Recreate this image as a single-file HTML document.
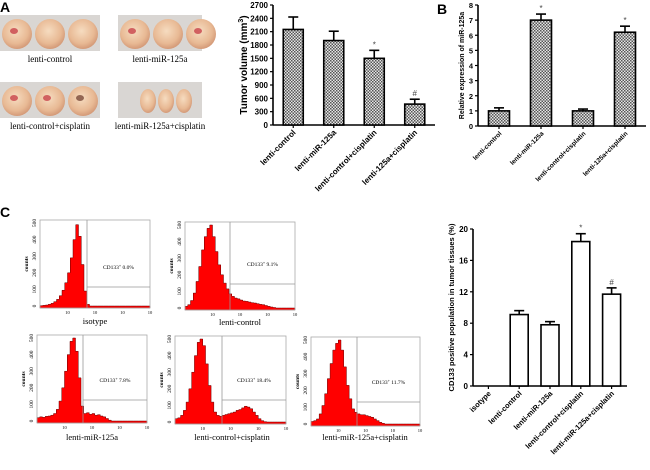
<!DOCTYPE html>
<html><head><meta charset="utf-8">
<style>
html,body{margin:0;padding:0;background:#fff;}
svg{display:block;font-family:"Liberation Sans",sans-serif;}
.ser{font-family:"Liberation Serif",serif;}
</style></head>
<body>
<svg id="fig" width="650" height="470" viewBox="0 0 650 470">
<defs>
<pattern id="chk" width="3" height="3" patternUnits="userSpaceOnUse">
<rect width="3" height="3" fill="#e6e6e6"/><rect width="1.5" height="1.5" fill="#555"/><rect x="1.5" y="1.5" width="1.5" height="1.5" fill="#555"/>
</pattern>
<radialGradient id="tum" cx="45%" cy="40%" r="60%"><stop offset="0" stop-color="#f6dcc0"/><stop offset="0.7" stop-color="#e8b994"/><stop offset="1" stop-color="#d49a78"/></radialGradient>
</defs>
<text x="0" y="12" font-size="14" font-weight="bold">A</text>
<text x="437" y="14" font-size="14" font-weight="bold">B</text>
<text x="0" y="217" font-size="14" font-weight="bold">C</text>
<g id="photos"></g>
<g id="chartA"></g>
<g id="chartB"></g>
<g id="chartC"></g>
<g id="flow"></g>
</svg>
<script>
const NS="http://www.w3.org/2000/svg";
function mk(p,t,a,txt){const e=document.createElementNS(NS,t);for(const k in a)e.setAttribute(k,a[k]);if(txt!==undefined)e.textContent=txt;p.appendChild(e);return e;}

// ---- chart data ----
const catsA=["lenti-control","lenti-miR-125a","lenti-control+cisplatin","lenti-125a+cisplatin"];
const valsA=[2150,1900,1500,470];
const errA=[280,210,180,110];
const marksA=["","","*","#"];
const ticksA=[0,300,600,900,1200,1500,1800,2100,2400,2700];

const catsB=["lenti-control","lenti-miR-125a","lenti-control+cisplatin","lenti-125a+cisplatin"];
const valsB=[1.0,7.0,1.0,6.2];
const errB=[0.2,0.4,0.12,0.4];
const marksB=["","*","","*"];
const ticksB=[0,1,2,3,4,5,6,7,8];

const catsC=["isotype","lenti-control","lenti-miR-125a","lenti-control+cisplatin","lenti-miR-125a+cisplatin"];
const valsC=[0,9.1,7.8,18.4,11.7];
const errC=[0,0.5,0.4,1.0,0.8];
const marksC=["","","","*","#"];
const ticksC=[0,4,8,12,16,20];

const histIso=[2,4,6,10,16,26,40,62,95,140,200,290,400,490,420,250,90,10,0,0,0,0,0,0,0,0,0,0,0,0,0,0,0,0,0,0,0,0,0,0];
const histCtrl=[10,20,45,90,160,250,350,430,480,500,430,340,260,200,150,115,85,70,60,55,48,42,40,36,32,30,26,22,20,15,10,6,3,0,0,0,0,0,0,0];
const histMiR=[20,25,22,28,30,35,45,70,120,200,300,400,480,500,420,260,90,45,50,40,45,35,38,30,25,15,5,0,0,0,0,0,0,0,0,0,0,0,0,0];
const histCis=[20,25,40,70,120,200,300,400,480,500,460,350,220,120,60,40,35,40,45,50,55,60,70,75,85,95,90,80,60,40,20,8,2,0,0,0,0,0,0,0];
const histMiRCis=[15,20,30,60,110,180,270,360,440,480,500,440,340,230,150,90,70,60,55,55,50,45,40,30,20,10,4,0,0,0,0,0,0,0,0,0,0,0,0,0];
const flowNames=["isotype","lenti-control","lenti-miR-125a","lenti-control+cisplatin","lenti-miR-125a+cisplatin"];
const flowPct=["0.0%","9.1%","7.8%","18.4%","11.7%"];

// ---- bar chart ----
function barChart(g,o){
  const ys=v=>o.y0-(v-o.min)/(o.max-o.min)*(o.y0-o.y1);
  const n=o.cats.length, step=(o.x2-o.x0)/n;
  const xc=i=>o.x0+step*(i+0.5);
  mk(g,"line",{x1:o.x0,y1:o.y1,x2:o.x0,y2:o.y0,stroke:"#000","stroke-width":1.6});
  mk(g,"line",{x1:o.x0,y1:o.y0,x2:o.x2,y2:o.y0,stroke:"#000","stroke-width":1.6});
  o.ticks.forEach(t=>{const y=ys(t);
    mk(g,"line",{x1:o.x0-3,y1:y,x2:o.x0,y2:y,stroke:"#000","stroke-width":1.2});
    const tl=mk(g,"text",{x:o.x0-5,y:y+3,"font-size":o.fs,"font-weight":"bold","text-anchor":"end"},t);
    
    
  });
  o.cats.forEach((c,i)=>{
    const cx=xc(i),v=o.vals[i],top=ys(v),bw=o.bw;
    mk(g,"line",{x1:cx,y1:o.y0,x2:cx,y2:o.y0+3,stroke:"#000","stroke-width":1.2});
    if(v>0){
      const eT=ys(v+o.err[i]);
      mk(g,"line",{x1:cx,y1:top,x2:cx,y2:eT,stroke:"#000","stroke-width":1.6});
      mk(g,"line",{x1:cx-5,y1:eT,x2:cx+5,y2:eT,stroke:"#000","stroke-width":1.6});
      const b=mk(g,"rect",{x:cx-bw/2,y:top,width:bw,height:o.y0-top,fill:o.fill,stroke:"#000","stroke-width":1.6});
      
      
      if(o.marks[i]){mk(g,"text",{x:cx,y:eT-3,"font-size":8,"text-anchor":"middle",fill:"#444"},o.marks[i]);}
    }
    const l=mk(g,"text",{x:cx+3,y:o.y0+8,"font-size":o.lfs,"font-weight":"bold","text-anchor":"end",transform:`rotate(-45 ${cx+3} ${o.y0+8})`},c);
    
    
  });
  const yl=mk(g,"text",{x:o.ylx,y:(o.y0+o.y1)/2,"font-size":o.yfs,"font-weight":"bold","text-anchor":"middle",transform:`rotate(-90 ${o.ylx} ${(o.y0+o.y1)/2})`},o.ylab);
  
  
  return yl;
}
const ylA=barChart(document.getElementById("chartA"),{cats:catsA,vals:valsA,err:errA,marks:marksA,ticks:ticksA,min:0,max:2700,x0:273,x2:435,y0:125,y1:5,bw:20,fill:"url(#chk)",fs:8,lfs:8,ylx:247,yfs:10,ylab:"Tumor volume (mm"});
const sup=document.createElementNS(NS,"tspan");sup.setAttribute("dy","-4");sup.setAttribute("font-size","7");sup.textContent="3";ylA.appendChild(sup);
const cl=document.createElementNS(NS,"tspan");cl.setAttribute("dy","4");cl.textContent=")";ylA.appendChild(cl);
barChart(document.getElementById("chartB"),{cats:catsB,vals:valsB,err:errB,marks:marksB,ticks:ticksB,min:0,max:8,x0:478,x2:646,y0:126,y1:5,bw:21,fill:"url(#chk)",fs:7.5,lfs:6.5,ylx:464,yfs:7,ylab:"Relative expression of miR-125a"});
barChart(document.getElementById("chartC"),{cats:catsC,vals:valsC,err:errC,marks:marksC,ticks:ticksC,min:0,max:20,x0:473,x2:627,y0:386,y1:229,bw:18,fill:"#fff",fs:8,lfs:7.5,ylx:454,yfs:7.5,ylab:"CD133 positive population in tumor tissues (%)"});

// ---- photos ----
const ph=document.getElementById("photos");
const photoBoxes=[[0,15,100,36,3,"#ecd0b4"],[118,15,84,36,3,"#e8c09c"],[0,82,100,36,3,"#e2a890"],[118,82,84,36,3,"#f0c8a0"]];
const photoLabels=["lenti-control","lenti-miR-125a","lenti-control+cisplatin","lenti-miR-125a+cisplatin"];
photoBoxes.forEach((p,i)=>{
  const g=mk(ph,"g",{});
  
  
  mk(g,"rect",{x:p[0],y:p[1],width:p[2],height:p[3],fill:"#d9d6d3"});
  const small=i===3;
  for(let k=0;k<3;k++){
    const cx=small?p[0]+30+k*18:p[0]+17+k*33, r=small?8:15;
    mk(g,"ellipse",{cx:cx,cy:p[1]+p[3]/2+1,rx:r,ry:small?12:15,fill:"url(#tum)"});
    if(i===2||(i===1&&k!==1)||(i===0&&k===0)) mk(g,"ellipse",{cx:cx-3,cy:p[1]+p[3]/2-2,rx:4,ry:3,fill:i===2&&k===2?"#7a4a3a":"#c8424a",opacity:0.8});
  }
  const t=mk(ph,"text",{x:p[0]+(i%2?p[2]/2:50),y:p[1]+47,"font-size":9,"text-anchor":"middle",class:"ser"},photoLabels[i]);
  
  
});

// ---- flow plots ----
const fl=document.getElementById("flow");
const boxes=[[40,220,150,308,87,287,95,324],[185,222,295,310,230,284,240,325],[37,335,147,423,83,400,92,440],[175,336,286,424,222,400,232,440],[311,337,420,426,357,402,365,440]];
const hists=[histIso,histCtrl,histMiR,histCis,histMiRCis];
boxes.forEach((b,i)=>{
  const [x0,y0,x1,y1,gx,gy,lx,ly]=b;
  const g=mk(fl,"g",{});
  
  
  const h=hists[i],n=h.length,bwid=(x1-x0)/n;
  const ys=c=>(y1-2)-c/500*(y1-y0-5);
  let d=`M${x0},${y1}`;
  h.forEach((c,k)=>{d+=` L${x0+k*bwid},${ys(c)} L${x0+(k+1)*bwid},${ys(c)}`;});
  d+=` L${x1},${y1} Z`;
  const hp=mk(g,"path",{d:d,fill:"#f00",stroke:"#600","stroke-width":0.5});
  
  
  mk(g,"rect",{x:x0,y:y0,width:x1-x0,height:y1-y0,fill:"none",stroke:"#aaa","stroke-width":0.8});
  mk(g,"line",{x1:gx,y1:y0,x2:gx,y2:y1,stroke:"#999","stroke-width":0.8});
  mk(g,"line",{x1:gx,y1:gy,x2:x1,y2:gy,stroke:"#999","stroke-width":0.8});
  [0,100,200,300,400,500].forEach(t=>{const y=ys(t);
    mk(g,"text",{x:x0-4,y:y,"font-size":5.5,"text-anchor":"middle",class:"ser",transform:`rotate(-90 ${x0-4} ${y})`},t);});
  for(let k=1;k<=4;k++){const x=x0+(x1-x0)*k/4;mk(g,"text",{x:x,y:y1+6,"font-size":4.5,"text-anchor":"middle",class:"ser"},"10");}
  mk(g,"text",{x:x0-12,y:(y0+y1)/2,"font-size":5.5,"font-weight":"bold","text-anchor":"middle",class:"ser",transform:`rotate(-90 ${x0-12} ${(y0+y1)/2})`},"counts");
  const pt=mk(g,"text",{x:(gx+x1)/2,y:gy-18,"font-size":5.5,"text-anchor":"middle",class:"ser"},"CD133");
  const s=document.createElementNS(NS,"tspan");s.setAttribute("dy","-2");s.setAttribute("font-size","4");s.textContent="+";pt.appendChild(s);
  const s2=document.createElementNS(NS,"tspan");s2.setAttribute("dy","2");s2.textContent=" "+flowPct[i];pt.appendChild(s2);
  
  
  const cap=mk(g,"text",{x:lx,y:ly,"font-size":8.5,"text-anchor":"middle",class:"ser"},flowNames[i]);
  
  
});
</script>
</body></html>
